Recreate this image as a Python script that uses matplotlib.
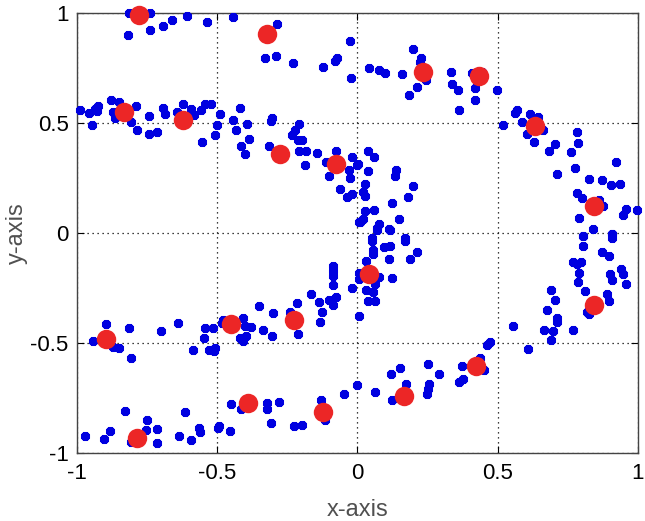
import matplotlib

matplotlib.use("Agg")

import matplotlib.pyplot as plt

# blue data points (x, y)
pts_x = [
    -0.815, -0.740, -0.817, -0.740, -0.695, -0.661, -0.608, -0.537, -0.445, -0.286,
    -0.331, -0.291, -0.229, -0.124, -0.079, -0.072, -0.027, -0.024,
    -0.989, -0.956, -0.946, -0.937, -0.924, -0.928, -0.880, -0.852, -0.873, -0.865,
    -0.789, -0.807, -0.785, -0.745, -0.742, -0.716, -0.695, -0.685, -0.643, -0.621,
    -0.595, -0.582, -0.554, -0.557, -0.543, -0.523, -0.507, -0.502, -0.491, -0.443,
    -0.434, -0.419, -0.395, -0.386, -0.414, -0.400, -0.309, -0.305, -0.314, -0.234,
    -0.223, -0.209, -0.212, -0.209, -0.184, -0.198, -0.186, -0.143, -0.112, -0.075,
    -0.100, -0.029, -0.027, -0.062, -0.036, -0.018, -0.020, -0.003, 0.004,
    0.040, 0.078, 0.097, 0.159, 0.197, 0.227, 0.223, 0.245, 0.213, 0.182,
    0.332, 0.337, 0.359, 0.363, 0.409, 0.444, 0.418, 0.418, 0.496,
    0.520, 0.561, 0.570, 0.586, 0.615, 0.643, 0.603, 0.629, 0.663, 0.705,
    0.682, 0.713, 0.782, 0.786, 0.762, 0.777, 0.825, 0.870, 0.903, 0.936,
    0.920, 0.782, 0.800, 0.862, 0.877, 0.791, 0.839, 0.805, 0.909, 0.945,
    0.957, 0.997,
    0.002, 0.038, 0.059, 0.038, 0.028, 0.021, 0.028, 0.137, 0.132, 0.197,
    0.180, 0.123, 0.059, 0.025, 0.021, 0.009, 0.147, 0.113, 0.075, 0.068,
    0.052, 0.170,
    0.068, 0.116, 0.052, 0.056, 0.054, 0.095, 0.116, 0.170, 0.213, 0.187,
    0.111, 0.030, 0.004, 0.007, 0.078, 0.123, 0.032, 0.054, 0.063, 0.038,
    0.063, -0.020, 0.004,
    -0.048, 0.000, 0.063, 0.118, 0.152, 0.173, 0.123, 0.252, 0.289, 0.254,
    0.252, 0.249, 0.363, 0.377, 0.373, 0.437, 0.452, 0.463, 0.473,
    0.556, 0.608, 0.665, 0.689, 0.698, 0.675, 0.713, 0.713, 0.703, 0.691,
    0.768, 0.818, 0.825, 0.810, 0.786, 0.789, 0.768, 0.784, 0.796, 0.805,
    0.803, 0.870, 0.898, 0.907, 0.909, 0.900, 0.907, 0.939, 0.948, 0.959,
    0.891, 0.895,
    -0.086, -0.088, -0.086, -0.088, -0.166, -0.139, -0.100, -0.088, -0.077, -0.127,
    -0.134, -0.216, -0.241, -0.212, -0.300, -0.352, -0.378, -0.336, -0.305, -0.407,
    -0.400, -0.419, -0.409, -0.398, -0.480, -0.484, -0.514, -0.545, -0.547, -0.528,
    -0.512, -0.507, -0.585, -0.640, -0.700, -0.816, -0.807, -0.852, -0.871, -0.896,
    -0.944,
    -0.970, -0.902, -0.882, -0.828, -0.807, -0.750, -0.754, -0.714, -0.714, -0.635,
    -0.616, -0.593, -0.564, -0.561, -0.495, -0.498, -0.455, -0.452, -0.416, -0.323,
    -0.321, -0.279, -0.309, -0.227, -0.198, -0.129, -0.116,
]
pts_y = [
    1.0, 1.0, 0.90, 0.925, 0.94, 0.97, 0.985, 0.96, 0.98, 0.95,
    0.795, 0.806, 0.773, 0.755, 0.783, 0.797, 0.873, 0.703,
    0.558, 0.545, 0.49, 0.564, 0.579, 0.555, 0.603, 0.597, 0.549, 0.521,
    0.576, 0.503, 0.467, 0.451, 0.533, 0.458, 0.567, 0.54, 0.552, 0.585,
    0.564, 0.536, 0.415, 0.558, 0.588, 0.588, 0.445, 0.491, 0.54, 0.515,
    0.47, 0.567, 0.497, 0.427, 0.397, 0.358, 0.509, 0.521, 0.397, 0.445,
    0.47, 0.497, 0.421, 0.373, 0.373, 0.421, 0.309, 0.364, 0.324, 0.373,
    0.258, 0.288, 0.251, 0.2, 0.164, 0.176, 0.345, 0.309, 0.051,
    0.748, 0.742, 0.727, 0.721, 0.836, 0.797, 0.776, 0.694, 0.664, 0.627,
    0.733, 0.679, 0.652, 0.558, 0.727, 0.733, 0.661, 0.606, 0.652,
    0.491, 0.545, 0.56, 0.503, 0.54, 0.527, 0.451, 0.415, 0.47, 0.403,
    0.373, 0.27, 0.458, 0.409, 0.367, 0.294, 0.245, 0.24, 0.218, 0.224,
    0.321, 0.182, 0.158, 0.149, 0.124, 0.07, 0.018, -0.015, -0.006, 0.082,
    0.109, 0.106,
    0.312, 0.373, 0.345, 0.282, 0.221, 0.188, 0.17, 0.288, 0.258, 0.212,
    0.164, 0.136, 0.106, 0.1, 0.064, 0.051, 0.064, 0.018, 0.039, 0.024,
    -0.021, -0.021,
    0.015, 0.015, -0.036, -0.076, -0.094, -0.064, -0.061, -0.036, -0.088, -0.118,
    -0.118, -0.127, -0.182, -0.209, -0.2, -0.206, -0.261, -0.27, -0.233, -0.309,
    -0.309, -0.252, -0.376,
    -0.73, -0.691, -0.721, -0.64, -0.615, -0.688, -0.76, -0.597, -0.64, -0.685,
    -0.709, -0.73, -0.679, -0.664, -0.603, -0.57, -0.624, -0.509, -0.497,
    -0.421, -0.527, -0.439, -0.485, -0.445, -0.351, -0.385, -0.403, -0.306, -0.258,
    -0.439, -0.358, -0.37, -0.264, -0.224, -0.182, -0.13, -0.139, -0.133, -0.058,
    -0.015, -0.088, -0.106, -0.006, -0.021, -0.185, -0.215, -0.164, -0.188, -0.233,
    -0.276, -0.309,
    -0.152, -0.173, -0.194, -0.236, -0.276, -0.315, -0.303, -0.327, -0.291, -0.358,
    -0.406, -0.318, -0.361, -0.458, -0.364, -0.333, -0.427, -0.439, -0.467, -0.385,
    -0.421, -0.476, -0.491, -0.47, -0.394, -0.409, -0.433, -0.433, -0.476, -0.533,
    -0.536, -0.524, -0.533, -0.409, -0.445, -0.433, -0.57, -0.524, -0.518, -0.415,
    -0.491,
    -0.921, -0.936, -0.9, -0.809, -0.952, -0.848, -0.897, -0.891, -0.955, -0.921,
    -0.812, -0.942, -0.888, -0.903, -0.876, -0.888, -0.9, -0.779, -0.8, -0.773,
    -0.8, -0.767, -0.864, -0.879, -0.873, -0.758, -0.852,
]

# red centres (x, y)
ctr_x = [-0.778, -0.322, 0.234, 0.434, -0.832, -0.623, -0.277, -0.077, 0.634, 0.843,
         0.040, 0.843, -0.896, -0.450, -0.227, 0.422, 0.166, -0.785, -0.391, -0.122]
ctr_y = [0.99, 0.905, 0.73, 0.712, 0.549, 0.515, 0.359, 0.315, 0.485, 0.121,
         -0.185, -0.327, -0.482, -0.415, -0.394, -0.603, -0.739, -0.93, -0.773, -0.815]

ticks = [-1, -0.5, 0, 0.5, 1]
tick_labels = ["-1", "-0.5", "0", "0.5", "1"]

plt.rcParams['font.family'] = ['Liberation Sans', 'DejaVu Sans']

fig = plt.figure(figsize=(6.45, 5.21), dpi=100)
ax = fig.add_axes([0.1194, 0.1305, 0.8697, 0.8445])

ax.plot(pts_x, pts_y, linestyle='none', marker=(8, 2, 0), markersize=6.5,
        markeredgewidth=2.6, color='#0000e0', clip_on=False, zorder=3)
ax.plot(pts_x, pts_y, linestyle='none', marker='o', markersize=4.5,
        color='#0000e0', markeredgewidth=0, clip_on=False, zorder=3)
ax.plot(ctr_x, ctr_y, linestyle='none', marker='o', markersize=14,
        color='#ec2626', markeredgewidth=0, clip_on=False, zorder=4)

ax.set_xlim(-1, 1)
ax.set_ylim(-1, 1)
ax.set_xticks(ticks)
ax.set_xticklabels(tick_labels)
ax.set_yticks(ticks)
ax.set_yticklabels(tick_labels)
ax.tick_params(direction='in', top=True, right=True, labelsize=16, length=5,
               width=0.8)
ax.tick_params(axis='x', pad=7)
ax.tick_params(axis='y', pad=6)
ax.grid(True, linestyle=(0, (1, 3)), color='black', linewidth=0.9)
ax.set_axisbelow(True)
for sp in ax.spines.values():
    sp.set_color('#444444')
    sp.set_linewidth(1.0)

ax.set_xlabel("x-axis", fontsize=17, color='#505050', labelpad=11)
ax.set_ylabel("y-axis", fontsize=17, color='#505050', labelpad=2)

plt.savefig("out.png", dpi=100)
plt.close()
